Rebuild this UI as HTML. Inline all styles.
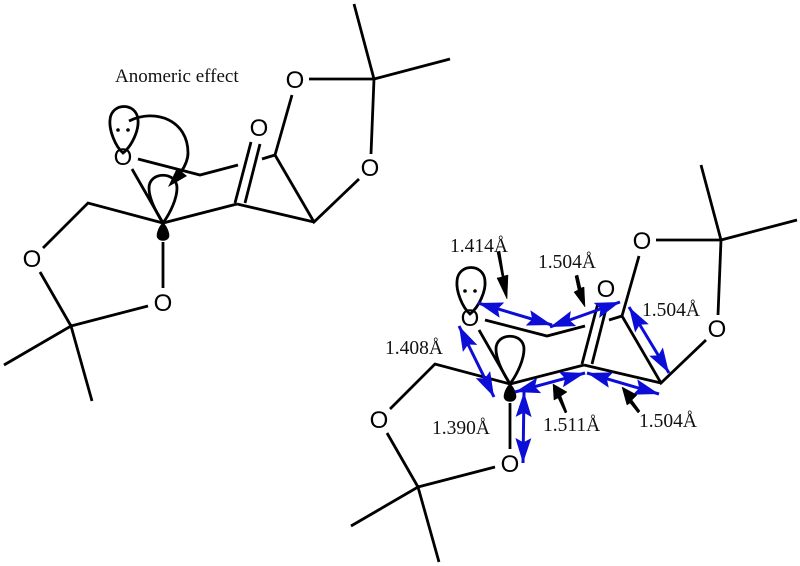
<!DOCTYPE html>
<html>
<head>
<meta charset="utf-8">
<style>
html,body{margin:0;padding:0;background:#fff;width:800px;height:566px;overflow:hidden}
svg{display:block}
.o{font-family:"Liberation Sans",sans-serif;font-size:24px;fill:#000;text-anchor:middle}
.t{font-family:"Liberation Serif",serif;font-size:19.5px;fill:#111}
</style>
</head>
<body>
<svg width="800" height="566" viewBox="0 0 800 566" xmlns="http://www.w3.org/2000/svg">
<defs>
<g id="mol" fill="none" stroke="#000" stroke-width="2.8" stroke-linecap="butt" stroke-linejoin="miter">
  <path d="M354 4L374 79M450 59L374 79M309 79H374M374 79L371 154"/>
  <path d="M292 95L275 155L314 222L359 179M314 222L237 204"/>
  <path d="M262 159L275 155"/>
  <path d="M235 203L251 142M245 203L260 144"/>
  <path d="M238 165L200 175L138 159"/>
  <path d="M132 169L163 223M4 365L71 326L92 401M71 326L148 306M71 326L40 272M43 248L88 203L163 223L237 204"/>
  <path d="M163 242V288"/>
  <path d="M163 223C156 212 149 198 149 188C149 171 177 171 177 188C177 198 171 212 163 223Z"/>
  <path d="M123 153C115 146 109 130 110 120C111 102 137 102 138 120C139 130 132 146 123 153Z"/>
  <path d="M163 223C158 228 156 236 158 238C160 241 166 241 168 238C170 236 168 228 163 223Z" fill="#000" stroke-width="1"/>
  <circle cx="118" cy="130" r="1.8" fill="#000" stroke="none"/>
  <circle cx="128" cy="130" r="1.8" fill="#000" stroke="none"/>
</g>
<marker id="blue" viewBox="0 0 20 10" refX="20" refY="5" markerWidth="25" markerHeight="16" orient="auto-start-reverse" markerUnits="userSpaceOnUse" preserveAspectRatio="none">
  <path d="M0 0L20 5L0 10L3.5 5Z" fill="#0d0dd8"/>
</marker>
</defs>

<!-- left molecule -->
<use href="#mol"/>
<text class="o" x="295" y="88">O</text>
<text class="o" x="370" y="176">O</text>
<text class="o" x="259" y="136">O</text>
<text class="o" x="123" y="165">O</text>
<text class="o" x="32" y="267">O</text>
<text class="o" x="163" y="311">O</text>
<path d="M129 121C155 108 188 120 188 153C188 160 185 166 181 172" fill="none" stroke="#000" stroke-width="2.8"/>
<path d="M168 187L177 168L187 176Z" fill="#000"/>
<text x="115" y="82" style="font-family:'Liberation Serif',serif;font-size:19px;fill:#111">Anomeric effect</text>

<!-- right molecule -->
<use href="#mol" x="347" y="161"/>
<text class="o" x="642" y="249">O</text>
<text class="o" x="717" y="337">O</text>
<text class="o" x="606" y="297">O</text>
<text class="o" x="470" y="326">O</text>
<text class="o" x="379" y="428">O</text>
<text class="o" x="510" y="472">O</text>

<!-- blue arrows -->
<g fill="none" stroke="#0d0dd8" stroke-width="3">
  <line x1="478" y1="303" x2="552" y2="325" marker-start="url(#blue)" marker-end="url(#blue)"/>
  <line x1="550" y1="327" x2="620" y2="302" marker-start="url(#blue)" marker-end="url(#blue)"/>
  <line x1="629" y1="307" x2="669" y2="373" marker-start="url(#blue)" marker-end="url(#blue)"/>
  <line x1="459" y1="326" x2="494" y2="397" marker-start="url(#blue)" marker-end="url(#blue)"/>
  <line x1="515" y1="392" x2="585" y2="373" marker-start="url(#blue)" marker-end="url(#blue)"/>
  <line x1="587" y1="373" x2="659" y2="394" marker-start="url(#blue)" marker-end="url(#blue)"/>
  <line x1="524" y1="392" x2="523" y2="463" marker-start="url(#blue)" marker-end="url(#blue)"/>
</g>

<!-- black arrows -->
<g fill="#000" stroke="#000" stroke-width="0.5">
  <path d="M497 252L500 251L504 276L508 275L507 299L497 278L502 277Z"/>
  <path d="M575 276L578 275L581 288L584 287L585 307L574 292L578 290Z"/>
  <path d="M567 412L565 413L558 398L554 400L553 384L567 392L561 396Z"/>
  <path d="M640 411L638 413L630 403L627 405L622 387L637 395L632 400Z"/>
</g>

<!-- labels -->
<text class="t" x="450" y="252">1.414Å</text>
<text class="t" x="538" y="268">1.504Å</text>
<text class="t" x="642" y="316">1.504Å</text>
<text class="t" x="385" y="354">1.408Å</text>
<text class="t" x="432" y="434">1.390Å</text>
<text class="t" x="543" y="431">1.511Å</text>
<text class="t" x="639" y="427">1.504Å</text>
</svg>
</body>
</html>
